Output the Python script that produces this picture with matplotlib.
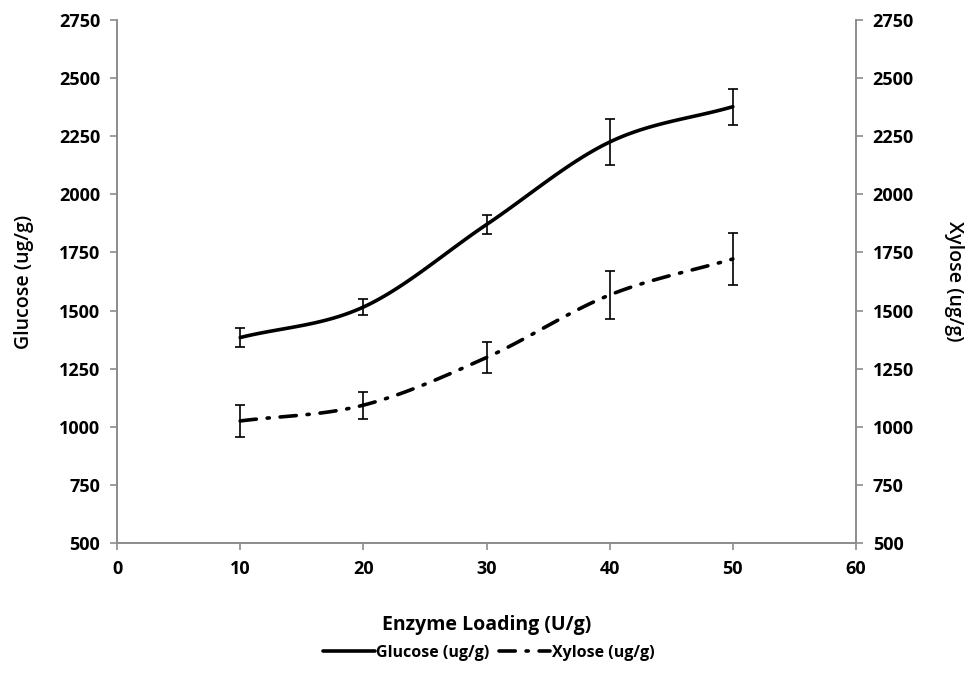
import numpy as np
import matplotlib.pyplot as plt

plt.rcParams['font.family'] = ['Open Sans', 'DejaVu Sans']

# data
loading = [10, 20, 30, 40, 50]
glucose = [1384, 1515, 1870, 2225, 2377]
glucose_err = [40, 35, 40, 100, 78]
xylose = [1025, 1093, 1298, 1567, 1722]
xylose_err = [70, 58, 65, 103, 111]
yticks = [500, 750, 1000, 1250, 1500, 1750, 2000, 2250, 2500, 2750]
xticks = [0, 10, 20, 30, 40, 50, 60]


def smooth(x, y, n=30):
    # Catmull-Rom style curve through the points (like Excel's smoothed line)
    x = np.asarray(x, float)
    y = np.asarray(y, float)
    px = np.r_[2 * x[0] - x[1], x, 2 * x[-1] - x[-2]]
    py = np.r_[2 * y[0] - y[1], y, 2 * y[-1] - y[-2]]
    t = np.linspace(0, 1, n)
    xs, ys = [], []
    for i in range(1, len(px) - 2):
        for p, out in ((px, xs), (py, ys)):
            p0, p1, p2, p3 = p[i - 1], p[i], p[i + 1], p[i + 2]
            out.extend(0.5 * (2 * p1 + (-p0 + p2) * t
                              + (2 * p0 - 5 * p1 + 4 * p2 - p3) * t ** 2
                              + (-p0 + 3 * p1 - 3 * p2 + p3) * t ** 3))
    return xs, ys


fig = plt.figure(figsize=(9.68, 6.87), dpi=100)
ax = fig.add_axes([0.1209, 0.2096, 0.7634, 0.7613])
ax2 = ax.twinx()

gx, gy = smooth(loading, glucose)
ax.plot(gx, gy, color='black', lw=2.6, solid_capstyle='round', label='Glucose (ug/g)')
ax.errorbar(loading, glucose, yerr=glucose_err, fmt='none', ecolor='black',
            elinewidth=1.2, capsize=3.5, capthick=1.2)

xx, xy = smooth(loading, xylose)
ax2.plot(xx, xy, color='black', lw=2.6, linestyle=(0, (4.5, 3, 0.6, 3)),
         dash_capstyle='round', label='Xylose (ug/g)')
ax2.errorbar(loading, xylose, yerr=xylose_err, fmt='none', ecolor='black',
             elinewidth=1.2, capsize=3.5, capthick=1.2)

for a in (ax, ax2):
    a.set_ylim(500, 2750)
    a.set_yticks(yticks)
    a.set_xlim(0, 60)
    a.spines['top'].set_visible(False)
    for s in ('left', 'right', 'bottom'):
        a.spines[s].set_color('#8c8c8c')
        a.spines[s].set_linewidth(1.2)
    a.tick_params(axis='both', colors='#8c8c8c', length=5, width=1.2,
                  labelcolor='black', labelsize=13, pad=7)
    for lab in a.get_yticklabels():
        lab.set_fontweight('bold')

ax.set_xticks(xticks)
for lab in ax.get_xticklabels():
    lab.set_fontweight('bold')

ax.set_xlabel('Enzyme Loading (U/g)', fontsize=14, fontweight='bold', labelpad=27)
ax.set_ylabel('Glucose (ug/g)', fontsize=14, fontweight='semibold', labelpad=18)
ax2.set_ylabel('Xylose (ug/g)', fontsize=14, fontweight='semibold', rotation=270,
               labelpad=36)

h1, l1 = ax.get_legend_handles_labels()
h2, l2 = ax2.get_legend_handles_labels()
fig.legend(h1 + h2, l1 + l2, loc='center', bbox_to_anchor=(0.505, 0.05), ncol=2,
           frameon=False, prop={'weight': 'bold', 'size': 11.5},
           handlelength=3.2, handletextpad=0.1, columnspacing=0.6)

fig.savefig('out.png', dpi=100)
